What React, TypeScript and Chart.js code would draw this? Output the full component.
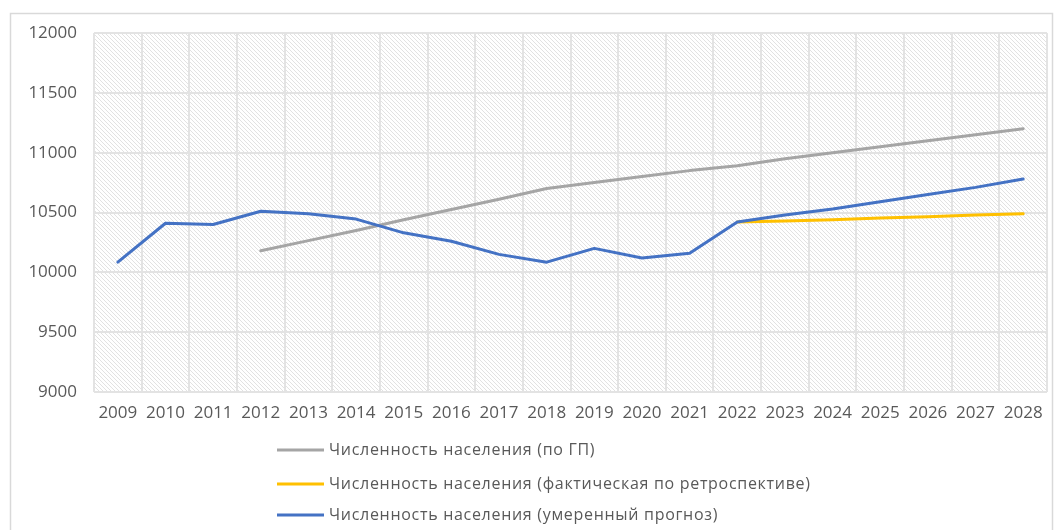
import React, { useEffect, useRef } from "react";
import { Chart, registerables } from "chart.js";

Chart.register(...registerables);

const years = ["2009","2010","2011","2012","2013","2014","2015","2016","2017","2018","2019","2020","2021","2022","2023","2024","2025","2026","2027","2028"];
const gpValues = [null,null,null,10180,10265,10350,10440,10525,10610,10700,10750,10800,10850,10890,10950,11000,11050,11100,11150,11200];
const factValues = [null,null,null,null,null,null,null,null,null,null,null,null,null,10420,10430,10440,10455,10465,10480,10490];
const moderateValues = [10085,10410,10400,10510,10490,10445,10330,10260,10150,10085,10200,10120,10160,10420,10480,10530,10590,10650,10710,10780];
const seriesLabels = [
  "Численность населения (по ГП)",
  "Численность населения (фактическая по ретроспективе)",
  "Численность населения (умеренный прогноз)",
];
const seriesColors = ["#A5A5A5", "#FFC000", "#4472C4"];

const TEXT = "#595959";
const FONT = "'Open Sans', 'DejaVu Sans', sans-serif";

function makePattern(ctx: CanvasRenderingContext2D) {
  const c = document.createElement("canvas");
  const s = 4;
  c.width = s;
  c.height = s;
  const p = c.getContext("2d")!;
  p.fillStyle = "#ffffff";
  p.fillRect(0, 0, s, s);
  p.strokeStyle = "#e2e2e2";
  p.lineWidth = 1;
  p.beginPath();
  p.moveTo(-1, -1);
  p.lineTo(s + 1, s + 1);
  p.moveTo(-1 - s, -1);
  p.lineTo(1, s + 1);
  p.moveTo(s - 1, -1);
  p.lineTo(2 * s + 1, s + 1);
  p.stroke();
  return ctx.createPattern(c, "repeat")!;
}

const decorPlugin = {
  id: "decor",
  beforeDraw(chart: any) {
    const { ctx, chartArea } = chart;
    ctx.save();
    ctx.fillStyle = "#ffffff";
    ctx.fillRect(0, 0, chart.width, chart.height);
    ctx.strokeStyle = "#d9d9d9";
    ctx.lineWidth = 1.5;
    ctx.strokeRect(10.5, 13.5, 1042, 540);
    ctx.fillStyle = makePattern(ctx);
    ctx.fillRect(chartArea.left, chartArea.top, chartArea.right - chartArea.left, chartArea.bottom - chartArea.top);
    ctx.restore();
  },
  afterDraw(chart: any) {
    const { ctx } = chart;
    ctx.save();
    const ys = [450, 484, 515];
    chart.data.datasets.forEach((ds: any, i: number) => {
      const y = ys[i];
      ctx.strokeStyle = ds.borderColor;
      ctx.lineWidth = 3;
      ctx.beginPath();
      ctx.moveTo(277, y);
      ctx.lineTo(324, y);
      ctx.stroke();
      ctx.fillStyle = TEXT;
      ctx.font = `16px ${FONT}`;
      (ctx as any).letterSpacing = "0.7px";
      ctx.textBaseline = "middle";
      ctx.textAlign = "left";
      ctx.fillText(ds.label, 329, y);
    });
    ctx.restore();
  },
};

export default function App() {
  const ref = useRef<HTMLCanvasElement>(null);
  useEffect(() => {
    const canvas = ref.current!;
    const data = [gpValues, factValues, moderateValues];
    const chart = new Chart(canvas, {
      type: "line",
      data: {
        labels: years,
        datasets: data.map((vals, i) => ({
          label: seriesLabels[i],
          data: vals,
          borderColor: seriesColors[i],
          backgroundColor: seriesColors[i],
          borderWidth: 3,
          pointRadius: 0,
          tension: 0,
          fill: false,
          spanGaps: false,
          borderJoinStyle: "round" as const,
          borderCapStyle: "round" as const,
          order: [3, 2, 1][i],
        })),
      },
      options: {
        responsive: false,
        animation: false,
        layout: { padding: { left: 10, right: 12, top: 33, bottom: 98 } },
        plugins: { legend: { display: false }, tooltip: { enabled: false } },
        scales: {
          x: {
            offset: true,
            grid: { offset: true, color: "#e3e3e3", lineWidth: 2, drawTicks: false },
            border: { display: false },
            ticks: { color: TEXT, font: { family: FONT, size: 17 }, padding: 11, maxRotation: 0, autoSkip: false },
            afterFit: (s: any) => { s.height = 40; },
          },
          y: {
            min: 9000,
            max: 12000,
            grid: { color: "#e3e3e3", lineWidth: 2, drawTicks: false },
            border: { display: false },
            ticks: {
              stepSize: 500,
              color: TEXT,
              font: { family: FONT, size: 17 },
              padding: 17,
              callback: (v: any) => String(v),
            },
            afterFit: (s: any) => { s.width = 84; },
          },
        },
      },
      plugins: [decorPlugin],
    });
    return () => chart.destroy();
  }, []);
  return (
    <div style={{ position: "fixed", left: 0, top: 0, width: 1059, height: 530, background: "#fff" }}>
      <canvas ref={ref} width={1059} height={530} />
    </div>
  );
}
